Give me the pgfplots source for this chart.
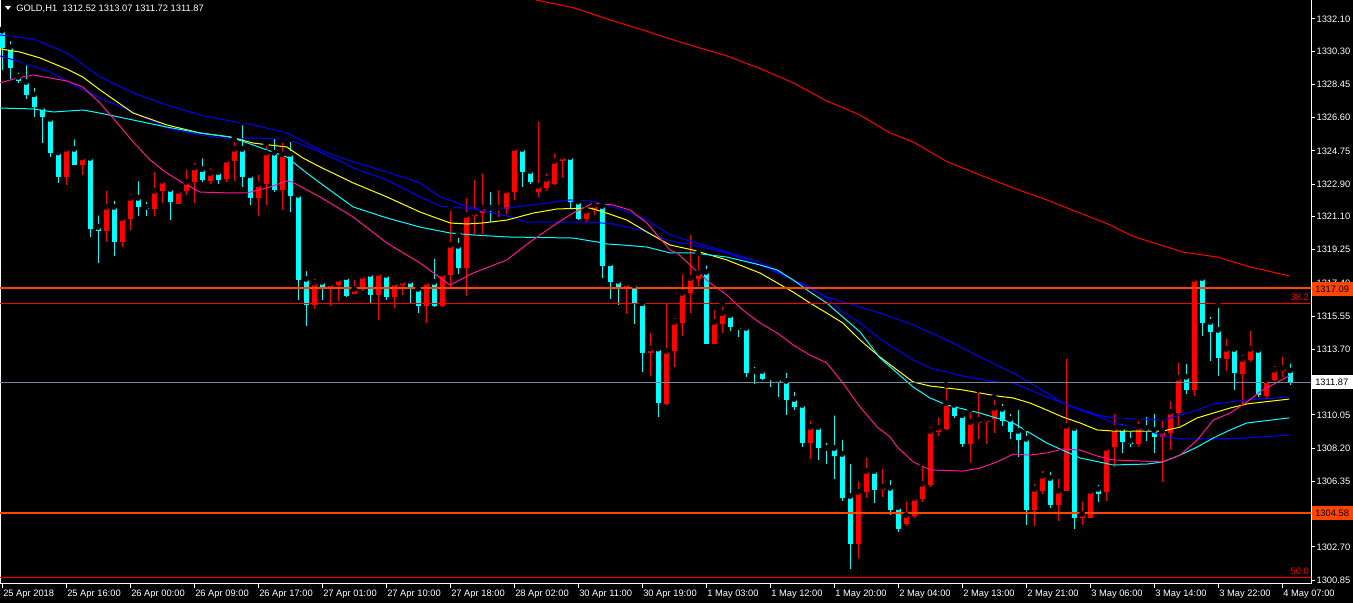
\documentclass[border=0pt]{standalone}
\usepackage{pgfplots}
\pgfplotsset{compat=1.18}
\usepackage{pgfplotstable}
\usepackage{fontspec}
\setmainfont{Liberation Sans}

\definecolor{candleup}{RGB}{255,0,0}
\definecolor{candledn}{RGB}{0,255,255}
\definecolor{fibred}{RGB}{255,0,0}
\definecolor{level}{RGB}{255,69,0}
\definecolor{mablue}{RGB}{0,0,255}
\definecolor{mayellow}{RGB}{255,255,0}
\definecolor{maaqua}{RGB}{0,255,255}
\definecolor{mapink}{RGB}{255,20,147}
\definecolor{bidgray}{RGB}{119,136,153}

% bullish bars (drawn red)
\pgfplotstableread{
i o h l c
8 1323.32 1325.17 1322.84 1324.86
10 1323.97 1324.58 1323.43 1324.38
13 1320.29 1322.69 1319.68 1321.63
15 1319.70 1321.27 1319.40 1321.01
16 1320.96 1322.50 1320.35 1322.13
19 1321.52 1323.73 1321.13 1322.52
20 1322.52 1323.32 1321.87 1323.08
22 1321.81 1322.67 1321.79 1322.52
23 1322.52 1323.84 1322.30 1323.02
24 1323.00 1324.25 1321.83 1323.82
26 1323.08 1323.93 1322.91 1323.52
28 1323.19 1324.39 1323.04 1324.25
29 1324.19 1325.40 1323.08 1324.86
32 1322.15 1323.58 1321.15 1322.89
33 1322.89 1325.17 1321.74 1324.65
35 1322.57 1325.36 1321.46 1324.56
39 1316.19 1317.79 1315.95 1317.40
41 1317.13 1317.51 1316.13 1317.36
42 1317.28 1317.84 1316.39 1317.62
44 1316.78 1317.73 1316.78 1317.06
45 1317.06 1318.06 1316.97 1317.79
47 1316.73 1318.01 1315.34 1317.95
49 1316.63 1317.47 1316.02 1317.40
50 1317.28 1317.73 1316.73 1317.51
53 1316.13 1317.67 1315.19 1317.45
55 1316.13 1318.01 1316.08 1317.90
56 1317.84 1321.55 1317.10 1319.51
58 1318.25 1322.30 1316.69 1321.18
59 1321.15 1323.30 1320.07 1321.31
60 1321.27 1323.65 1320.11 1321.59
62 1321.50 1322.72 1321.09 1321.59
63 1321.50 1322.61 1321.22 1322.54
64 1322.46 1325.08 1322.02 1324.91
67 1322.46 1326.53 1322.17 1322.80
68 1322.67 1323.65 1322.54 1323.19
69 1322.91 1324.77 1322.85 1324.19
70 1324.19 1324.52 1323.26 1324.43
73 1320.96 1321.46 1320.81 1321.41
74 1321.46 1322.13 1321.18 1321.74
78 1317.13 1317.40 1315.67 1317.36
81 1313.51 1314.78 1312.22 1313.74
83 1310.65 1316.45 1310.60 1313.61
84 1313.61 1315.61 1312.73 1315.22
85 1315.17 1318.03 1314.44 1316.84
86 1316.84 1320.22 1315.74 1317.67
87 1317.62 1319.05 1317.25 1317.95
89 1314.00 1316.06 1314.00 1315.22
90 1315.11 1316.24 1314.61 1315.72
101 1308.50 1309.88 1307.59 1309.37
107 1302.88 1306.50 1302.10 1305.75
108 1305.77 1307.81 1305.44 1306.92
110 1305.88 1307.20 1305.49 1306.03
113 1303.99 1305.40 1303.86 1304.47
114 1304.42 1305.73 1304.32 1305.42
115 1305.35 1307.35 1305.22 1306.20
116 1306.14 1309.54 1306.05 1309.15
117 1309.11 1310.04 1308.89 1309.32
118 1309.26 1311.71 1309.21 1310.69
121 1308.45 1310.36 1307.44 1309.65
122 1309.60 1311.44 1308.71 1309.76
123 1309.65 1310.27 1308.43 1309.82
124 1309.82 1311.03 1309.06 1310.43
129 1304.77 1306.36 1303.88 1305.92
130 1305.83 1307.09 1305.66 1306.64
132 1305.03 1306.64 1304.14 1305.81
133 1305.83 1313.33 1305.83 1309.43
135 1304.32 1305.38 1303.92 1304.53
136 1304.32 1306.11 1304.32 1305.81
138 1305.77 1308.32 1305.27 1308.20
139 1308.26 1310.27 1307.13 1309.32
142 1308.43 1309.88 1308.26 1309.37
145 1308.82 1309.88 1306.31 1309.15
146 1309.04 1310.93 1308.09 1310.21
147 1310.15 1313.11 1309.43 1312.10
149 1311.43 1317.90 1311.12 1317.62
153 1313.16 1314.44 1312.49 1313.72
155 1312.34 1313.55 1310.56 1313.16
156 1313.11 1314.89 1312.99 1313.72
158 1311.12 1312.33 1311.01 1311.99
159 1311.99 1312.94 1311.94 1312.55
160 1312.49 1313.44 1312.16 1312.66
}\upbars

% bearish bars (drawn aqua)
\pgfplotstableread{
i o h l c
0 1331.45 1331.52 1329.26 1330.47
1 1330.54 1331.02 1328.78 1329.39
2 1328.87 1329.26 1328.52 1328.63
3 1328.59 1329.67 1327.63 1327.87
4 1327.90 1328.42 1326.66 1327.22
5 1327.20 1327.31 1325.17 1326.66
6 1326.53 1326.70 1324.39 1324.62
7 1324.66 1324.71 1322.98 1323.32
9 1324.86 1325.55 1323.97 1323.97
11 1324.36 1324.58 1319.97 1320.42
12 1320.51 1321.31 1318.49 1320.31
14 1321.63 1322.13 1318.90 1319.70
17 1322.13 1323.22 1321.13 1321.63
18 1321.63 1322.07 1321.13 1321.54
21 1322.63 1322.76 1320.90 1321.91
25 1323.73 1324.49 1323.04 1323.13
27 1323.58 1323.58 1322.91 1323.13
30 1324.86 1326.34 1322.76 1323.32
31 1323.39 1323.69 1321.74 1322.15
34 1324.65 1325.58 1322.48 1322.57
36 1324.58 1325.40 1321.37 1322.26
37 1322.30 1322.45 1316.45 1317.56
38 1317.62 1318.21 1315.02 1316.19
40 1317.45 1317.79 1316.45 1317.13
43 1317.73 1317.73 1316.63 1316.67
46 1317.90 1317.95 1316.30 1316.73
48 1317.84 1317.95 1316.45 1316.63
51 1317.51 1317.62 1316.30 1317.08
52 1317.06 1317.23 1315.74 1316.13
54 1317.45 1318.90 1316.08 1316.13
57 1319.46 1320.07 1317.90 1318.25
61 1321.59 1322.63 1320.81 1321.50
65 1324.86 1324.99 1322.72 1323.58
66 1323.63 1323.74 1322.91 1323.00
71 1324.41 1324.71 1321.55 1321.92
72 1321.92 1322.11 1320.90 1320.98
75 1321.68 1321.83 1317.65 1318.36
76 1318.49 1318.49 1316.50 1317.47
77 1317.51 1317.84 1316.17 1317.13
79 1317.28 1317.38 1315.11 1316.30
80 1316.26 1316.39 1312.46 1313.51
82 1313.74 1313.89 1309.95 1310.73
88 1318.01 1318.53 1314.00 1314.00
91 1315.61 1315.61 1314.72 1314.94
92 1314.94 1315.11 1314.39 1314.83
93 1314.89 1315.00 1312.14 1312.38
94 1312.49 1312.88 1311.77 1312.44
95 1312.49 1312.66 1311.99 1312.05
96 1312.14 1312.25 1311.62 1312.09
97 1312.05 1312.05 1311.06 1311.88
98 1311.94 1312.55 1310.04 1310.88
99 1310.93 1311.49 1310.32 1310.51
100 1310.60 1310.93 1308.28 1308.50
102 1309.37 1309.43 1307.54 1308.22
103 1308.20 1308.65 1307.31 1308.15
104 1308.20 1310.17 1306.50 1307.78
105 1307.87 1308.82 1305.27 1305.44
106 1305.53 1307.48 1301.48 1302.88
109 1306.92 1307.15 1305.16 1305.88
111 1305.98 1306.57 1304.47 1304.75
112 1304.92 1304.92 1303.54 1303.71
119 1310.60 1310.73 1309.89 1310.00
120 1310.04 1310.04 1308.28 1308.45
125 1310.38 1310.82 1309.43 1309.71
126 1309.82 1310.27 1308.71 1309.10
127 1309.15 1310.49 1307.72 1308.67
128 1308.71 1309.32 1303.93 1304.77
131 1306.53 1307.03 1304.84 1305.03
134 1309.32 1309.43 1303.67 1304.32
137 1305.92 1306.31 1305.22 1305.66
140 1309.32 1309.71 1307.93 1308.54
141 1308.59 1309.32 1308.26 1308.43
143 1309.32 1310.10 1308.59 1309.21
144 1309.21 1310.25 1307.93 1308.82
148 1312.16 1313.05 1311.21 1311.43
150 1317.67 1317.90 1314.44 1315.18
151 1315.22 1315.67 1313.05 1314.66
152 1314.78 1316.17 1312.22 1313.22
154 1313.72 1313.77 1311.43 1312.38
157 1313.66 1313.94 1311.06 1311.16
161 1312.52 1313.07 1311.72 1311.87
}\downbars

\begin{document}
\begin{tikzpicture}[font=\fontsize{7}{8.4}\selectfont]
% 1 px of the screenshot = 0.75pt
\begin{scope}[x=0.75pt,y=-0.75pt,yshift=438pt]
  \fill[black] (0,0) rectangle (1353,603);
\end{scope}

\begin{axis}[
    scale only axis,
    width=983.25pt, height=438pt,
    xmin=-0.25, xmax=163.625,
    ymin=1300.63, ymax=1333.158,
    axis line style={white, line width=0.75pt},
    tick style={white, line width=0.75pt},
    tick align=outside,
    major tick length=3pt,
    xtick pos=left, ytick pos=right,
    yticklabel pos=right,
    xtick={0,8,...,160},
    xticklabels={25 Apr 2018, 25 Apr 16:00, 26 Apr 00:00, 26 Apr 09:00, 26 Apr 17:00,
        27 Apr 01:00, 27 Apr 10:00, 27 Apr 18:00, 28 Apr 02:00, 30 Apr 11:00,
        30 Apr 19:00, 1 May 03:00, 1 May 12:00, 1 May 20:00, 2 May 04:00,
        2 May 13:00, 2 May 21:00, 3 May 06:00, 3 May 14:00, 3 May 22:00, 4 May 07:00},
    ytick={1332.10,1330.30,1328.45,1326.60,1324.75,1322.90,1321.10,1319.25,1317.40,
        1315.55,1313.70,1310.05,1308.20,1306.35,1302.70,1300.85},
    yticklabels={1332.10,1330.30,1328.45,1326.60,1324.75,1322.90,1321.10,1319.25,1317.40,
        1315.55,1313.70,1310.05,1308.20,1306.35,1302.70,1300.85},
    tick label style={font=\fontsize{7}{8.4}\selectfont, text=white},
    xticklabel style={anchor=north west, inner xsep=0.75pt, inner ysep=1pt},
    yticklabel style={anchor=west, inner xsep=1pt},
]

% wicks
\addplot [only marks, mark=none, error bars/.cd, y dir=minus, y explicit, error mark=none,
    error bar style={draw=candleup, line width=0.75pt}]
    table [x=i, y=h, y error minus expr=\thisrow{h}-\thisrow{l}] {\upbars};
\addplot [only marks, mark=none, error bars/.cd, y dir=minus, y explicit, error mark=none,
    error bar style={draw=candledn, line width=0.75pt}]
    table [x=i, y=h, y error minus expr=\thisrow{h}-\thisrow{l}] {\downbars};
% bodies
\addplot [only marks, mark=none, error bars/.cd, y dir=minus, y explicit, error mark=none,
    error bar style={draw=candleup, line width=3.75pt}]
    table [x=i, y=c, y error minus expr={max(\thisrow{c}-\thisrow{o},0.05)}] {\upbars};
\addplot [only marks, mark=none, error bars/.cd, y dir=minus, y explicit, error mark=none,
    error bar style={draw=candledn, line width=3.75pt}]
    table [x=i, y=o, y error minus expr={max(\thisrow{o}-\thisrow{c},0.05)}] {\downbars};

% moving averages
\addplot [mablue, line width=0.75pt] coordinates {
(-0.25,1331.21) (3.9,1330.99) (8.1,1330.21) (12.25,1328.87) (16.4,1327.98) (20.6,1327.31)
(24.75,1326.75) (28.5,1326.42) (31.4,1326.20) (35.6,1325.75) (39.75,1324.80) (43.9,1324.14)
(48.1,1323.58) (52.25,1322.97) (54.75,1322.19) (56.9,1321.85) (58.9,1321.57) (63.1,1321.57)
(67.25,1321.80) (71,1322.02) (73.9,1321.96) (77.6,1321.46) (80.6,1320.90) (83.5,1320.07)
(86.4,1319.68) (90.6,1319.12) (94.75,1318.56) (98.9,1317.56) (103.1,1316.62) (107.25,1316.06)
(109.75,1315.72) (113.9,1315.06) (118.1,1314.22) (122.25,1313.27) (126.4,1312.38) (130.6,1311.27)
(132.6,1310.71) (136.9,1310.04) (138.9,1309.88) (145.1,1309.76) (149.4,1310.32) (151.4,1310.66)
(155.6,1310.88) (160.9,1311.05)};
\addplot [mablue, line width=0.75pt] coordinates {
(-0.25,1330.04) (2.25,1329.71) (6,1329.15) (10.1,1328.15) (12.25,1327.70) (16.4,1326.92)
(20.6,1326.03) (24.75,1325.64) (28.5,1325.42) (31.4,1325.47) (35.6,1325.42) (37.6,1325.08)
(39.75,1324.69) (41.9,1324.25) (43.9,1323.80) (48.1,1323.13) (52.25,1322.19) (54.75,1321.68)
(58.9,1321.52) (63.1,1321.13) (65.6,1320.79) (73.5,1320.79) (76.4,1320.68) (79.75,1320.35)
(83.5,1319.73) (86.4,1319.51) (90.6,1319.07) (94.75,1318.40) (98.9,1317.56) (101,1317.17)
(103.1,1316.56) (105.1,1315.78) (107.25,1315.17) (109.75,1314.28) (111.9,1313.66) (113.9,1313.11)
(116,1312.66) (120.1,1312.21) (124.4,1311.88) (126.4,1311.83) (128.5,1311.44) (130.6,1311.05)
(132.6,1310.71) (134.75,1310.32) (136.9,1309.99) (138.9,1309.60) (143.1,1309.21) (145.1,1308.87)
(146.9,1308.71) (151.4,1308.71) (155.6,1308.76) (160.9,1308.93)};
\addplot [mayellow, line width=0.75pt] coordinates {
(-0.25,1330.43) (2.25,1330.26) (4.75,1329.93) (8.1,1329.31) (10.1,1328.87) (12.25,1328.15)
(14.4,1327.48) (16.4,1326.86) (20.6,1326.20) (24.75,1325.75) (28.5,1325.53) (31.4,1325.19)
(35.6,1324.97) (37.6,1324.36) (39.75,1323.86) (43.9,1322.97) (48.1,1322.19) (52.25,1321.35)
(56,1320.74) (58.1,1320.68) (60.1,1320.74) (63.1,1320.90) (66.4,1321.29) (69.4,1321.52)
(73.5,1321.57) (75.6,1321.29) (78.1,1320.90) (80.6,1320.24) (83.5,1319.51) (86.4,1319.23)
(90.6,1318.68) (94.75,1317.95) (98.9,1316.89) (101,1316.28) (103.1,1315.72) (105.1,1315.17)
(107.25,1314.22) (109.75,1313.27) (111.9,1312.55) (113.9,1311.88) (116,1311.66) (120.1,1311.44)
(124.4,1311.10) (126.4,1310.99) (128.5,1310.71) (130.6,1310.32) (132.6,1309.93) (134.75,1309.60)
(136.9,1309.21) (138.9,1309.15) (145.1,1309.15) (147.25,1309.37) (149.4,1309.88) (151.4,1310.15)
(153.5,1310.43) (155.6,1310.66) (160.9,1310.93)};
\addplot [maaqua, line width=0.75pt] coordinates {
(-0.25,1327.14) (3.9,1327.09) (6.4,1326.92) (10.1,1327.03) (12.25,1326.86) (16.4,1326.47)
(20.6,1326.08) (24.75,1325.75) (28.5,1325.53) (31.4,1325.08) (35.6,1324.41) (37.6,1323.69)
(39.75,1322.97) (43.9,1321.63) (48.1,1321.02) (52.25,1320.51) (56,1320.18) (58.9,1320.07)
(63.1,1319.96) (71.4,1319.90) (74.4,1319.68) (75.6,1319.57) (77.6,1319.51) (80.6,1319.40)
(83.5,1319.07) (86.4,1319.07) (90.6,1318.84) (94.75,1318.40) (96.9,1318.12) (98.9,1317.56)
(101,1316.89) (103.1,1316.28) (105.1,1315.50) (107.25,1314.67) (109.75,1313.22) (111.9,1312.38)
(113.9,1311.60) (116,1310.99) (118.1,1310.60) (122.25,1310.15) (126.4,1309.60) (130.6,1308.48)
(134.75,1307.65) (138.9,1307.26) (143.1,1307.31) (145.1,1307.43) (147.25,1307.81) (149.4,1308.26)
(151.4,1308.76) (153.5,1309.21) (155.6,1309.60) (160.9,1309.88)};
\addplot [mapink, line width=0.75pt] coordinates {
(-0.25,1328.54) (1.9,1328.81) (3.9,1328.98) (6,1328.81) (8.1,1328.65) (10.1,1328.31)
(12.25,1327.42) (14.4,1326.31) (16.4,1325.25) (18.5,1324.25) (20.6,1323.52) (22.6,1322.97)
(24.75,1322.46) (28.5,1322.41) (30.6,1322.41) (33.5,1322.74) (35.6,1323.08) (36.25,1323.02)
(39.75,1322.19) (43.9,1321.07) (48.1,1319.62) (52.25,1318.51) (56,1317.28) (58.9,1317.95)
(63.1,1318.68) (66,1319.68) (69.4,1320.74) (71.4,1321.29) (73.9,1321.85) (76.4,1321.74)
(78.5,1321.46) (80.6,1320.74) (83.5,1319.23) (84.4,1319.07) (86.4,1318.23) (88.5,1317.40)
(90.6,1316.73) (92.6,1315.89) (94.75,1315.17) (96.9,1314.61) (98.9,1313.94) (101,1313.38)
(103.1,1312.94) (105.1,1311.83) (107.25,1310.49) (109.4,1309.37) (111,1308.82) (111.9,1308.26)
(113.9,1307.43) (116,1306.98) (120.1,1306.92) (122.25,1307.09) (124.4,1307.43) (126.4,1307.87)
(128.5,1307.81) (130.6,1307.93) (132.6,1308.15) (134.75,1308.09) (136.9,1307.76) (138.9,1307.54)
(145.1,1307.43) (147.25,1307.81) (149.4,1308.65) (151.4,1309.76) (153.5,1310.15) (155.6,1310.77)
(157.6,1311.44) (160.9,1312.22)};
\addplot [candleup, line width=0.75pt] coordinates {
(64.75,1333.44) (66.75,1333.16) (71.4,1332.73) (76.4,1331.99) (79.75,1331.54) (83.5,1330.99)
(87.25,1330.48) (90.6,1330.04) (94.75,1329.34) (98.9,1328.54) (103.1,1327.53) (107.25,1326.75)
(111,1325.75) (113.9,1325.25) (118.1,1324.16) (122.25,1323.41) (126.4,1322.69) (130.6,1322.02)
(134.75,1321.29) (138.5,1320.63) (141.4,1319.99) (147.6,1319.12) (151.9,1318.84) (156,1318.29)
(160.9,1317.79)};

% horizontal levels
\addplot [bidgray, line width=0.75pt] coordinates {(-1,1311.87) (170,1311.87)};
\addplot [fibred, line width=0.75pt] coordinates {(-1,1316.25) (170,1316.25)};
\addplot [fibred, line width=0.75pt] coordinates {(-1,1300.98) (170,1300.98)};
\addplot [level, line width=1.5pt] coordinates {(-1,1317.09) (170,1317.09)};
\addplot [level, line width=1.5pt] coordinates {(-1,1304.58) (170,1304.58)};
\end{axis}

\begin{scope}[x=0.75pt,y=-0.75pt,yshift=438pt]
  % header
  \fill[white] (5,6) -- (11,6) -- (8,10) -- cycle;
  \node[anchor=west, text=white, inner sep=0pt] at (16,8.5)
    {GOLD,H1\ \ 1312.52 1313.07 1311.72 1311.87};
  % fibo level captions
  \node[anchor=east, text=fibred, inner sep=0pt] at (1309,297) {38.2};
  \node[anchor=east, text=fibred, inner sep=0pt] at (1309,571) {50.0};
  % price tags on the scale
  \fill[level] (1312,282) rectangle (1353,296);
  \node[anchor=west, text=black, inner sep=0pt] at (1315,289) {1317.09};
  \fill[white] (1312,375.5) rectangle (1353,389);
  \node[anchor=west, text=black, inner sep=0pt] at (1315,382.5) {1311.87};
  \fill[level] (1312,506) rectangle (1353,520);
  \node[anchor=west, text=black, inner sep=0pt] at (1315,513) {1304.58};
  \pgfresetboundingbox
  \path[use as bounding box] (0,0) rectangle (1353,603);
\end{scope}
\end{tikzpicture}
\end{document}
